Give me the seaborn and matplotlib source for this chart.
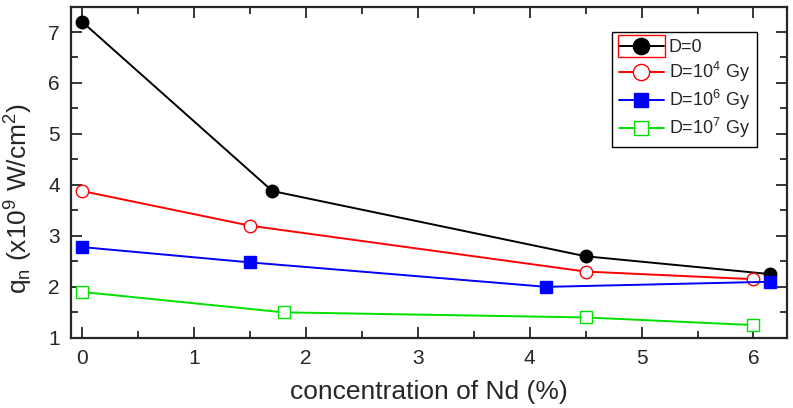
import pandas as pd
import matplotlib
matplotlib.use("Agg")
import matplotlib.pyplot as plt
import seaborn as sns
from matplotlib.patches import Rectangle
from matplotlib.ticker import MultipleLocator

# values
x_d0 = [0.0, 1.7, 4.5, 6.15]
y_d0 = [7.2, 3.88, 2.6, 2.25]
x_d4 = [0.0, 1.5, 4.5, 6.0]
y_d4 = [3.88, 3.2, 2.3, 2.15]
x_d6 = [0.0, 1.5, 4.15, 6.15]
y_d6 = [2.78, 2.48, 2.0, 2.1]
x_d7 = [0.0, 1.8, 4.5, 6.0]
y_d7 = [1.9, 1.5, 1.4, 1.25]
labels = ["D=0", "D=10$^4$ Gy", "D=10$^6$ Gy", "D=10$^7$ Gy"]

frames = []
for lab, xs, ys in zip(labels, [x_d0, x_d4, x_d6, x_d7], [y_d0, y_d4, y_d6, y_d7]):
    frames.append(pd.DataFrame({"conc": xs, "q": ys, "dose": lab}))
df = pd.concat(frames, ignore_index=True)

sns.set_style("ticks")
plt.rcParams["font.family"] = ["Liberation Sans", "DejaVu Sans"]
plt.rcParams["mathtext.default"] = "regular"

styles = {
    labels[0]: dict(color="black", marker="o", markerfacecolor="black", markersize=9),
    labels[1]: dict(color="red", marker="o", markerfacecolor="white", markersize=9),
    labels[2]: dict(color="blue", marker="s", markerfacecolor="blue", markersize=8),
    labels[3]: dict(color="#00e000", marker="s", markerfacecolor="white", markersize=8),
}

fig = plt.figure(figsize=(7.93, 4.08), dpi=100)
ax = fig.add_axes([0.0895, 0.172, 0.903, 0.812])

for lab in labels:
    st = styles[lab]
    sns.lineplot(data=df[df["dose"] == lab], x="conc", y="q", ax=ax, label=lab,
                 color=st["color"], marker=st["marker"], markersize=st["markersize"],
                 markerfacecolor=st["markerfacecolor"], markeredgecolor=st["color"],
                 markeredgewidth=1.0, linewidth=1.4, sort=False)

ax.set_xlim(-0.1, 6.3)
ax.set_ylim(1, 7.5)
ax.xaxis.set_major_locator(MultipleLocator(1))
ax.xaxis.set_minor_locator(MultipleLocator(0.5))
ax.yaxis.set_major_locator(MultipleLocator(1))
ax.yaxis.set_minor_locator(MultipleLocator(0.5))
ax.tick_params(which="both", direction="in", top=True, right=True, width=1.3,
               labelsize=15, pad=8)
ax.tick_params(which="major", length=8)
ax.tick_params(which="minor", length=5)
for s in ax.spines.values():
    s.set_linewidth(1.6)

ax.set_xlabel("concentration of Nd (%)", fontsize=19, labelpad=9)
ax.set_ylabel("q$_n$ (x10$^9$ W/cm$^2$)", fontsize=19)
ax.yaxis.set_label_coords(-0.05, 0.42)

leg = ax.legend(loc="upper right", bbox_to_anchor=(0.958, 0.924), fontsize=13,
                frameon=True, fancybox=False, edgecolor="black", framealpha=1,
                handlelength=2.5, handletextpad=0.25, borderpad=0.4, labelspacing=0.22,
                borderaxespad=0, markerscale=1.3)
leg.get_frame().set_linewidth(1.0)

# red selection box around the first legend handle, as in the reference
fig.canvas.draw()
h = leg.legend_handles[0]
bb = h.get_window_extent(fig.canvas.get_renderer())
cx, cy = (bb.x0 + bb.x1) / 2, (bb.y0 + bb.y1) / 2
half_w = leg.handlelength * 13 * 100 / 72 / 2 + 1
inv = fig.transFigure.inverted()
(x0, y0), (x1, y1) = inv.transform([(cx - half_w, cy - 11), (cx + half_w, cy + 11)])
fig.add_artist(Rectangle((x0, y0), x1 - x0, y1 - y0, transform=fig.transFigure,
                         fill=False, edgecolor="red", linewidth=1.0))

fig.savefig("out.png", dpi=100)
